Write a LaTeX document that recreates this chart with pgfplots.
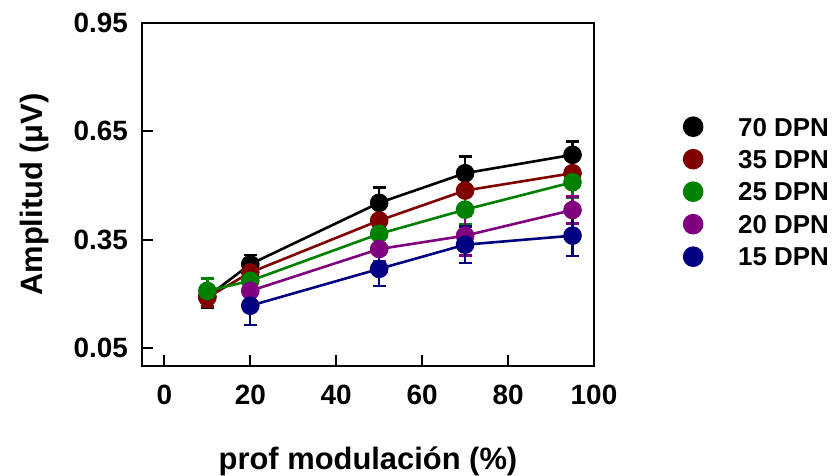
\documentclass[border=0pt]{standalone}
\usepackage{fontspec}
\setmainfont{Liberation Sans}
\usepackage{pgfplots}
\pgfplotsset{compat=1.18}
\definecolor{cred}{RGB}{128,0,0}
\definecolor{cgreen}{RGB}{0,128,0}
\definecolor{cpurple}{RGB}{128,0,128}
\definecolor{cblue}{RGB}{0,0,128}
\begin{document}
\begin{tikzpicture}
\path[use as bounding box] (0bp,0bp) rectangle (836bp,476bp);
\begin{axis}[
  at={(142bp,110bp)}, anchor=south west, scale only axis,
  width=452bp, height=343bp,
  xmin=-5.2, xmax=100, ymin=0, ymax=0.95,
  xtick={0,20,40,60,80,100},
  ytick={0.05,0.35,0.65,0.95},
  xtick pos=bottom, ytick pos=left,
  tick align=inside,
  major tick length=11bp,
  every tick/.style={black, line width=2bp},
  axis line style={line width=2.5bp},
  /pgf/number format/assume math mode=true,
  yticklabel style={/pgf/number format/fixed, /pgf/number format/fixed zerofill, /pgf/number format/precision=2, anchor=east, inner sep=0pt, xshift=-14bp},
  xticklabel style={anchor=north, inner sep=0pt, yshift=-19bp},
  ticklabel style={font=\fontsize{28}{30}\selectfont\bfseries},
  xlabel={prof modulación (\%)},
  ylabel={Amplitud (μV)},
  label style={font=\fontsize{31}{33}\selectfont\bfseries},
  xlabel style={at={(axis description cs:0.5,0)}, anchor=base, yshift=-103bp},
  ylabel style={at={(axis description cs:0,0.5)}, anchor=base, rotate=0, yshift=99bp},
  legend style={at={(axis description cs:1.199,0.7245)}, anchor=north west, draw=none, fill=none, inner sep=0pt, row sep=12.7bp, column sep=36bp, font=\fontsize{26}{26}\selectfont\bfseries, nodes={inner sep=0pt, anchor=base}},
  legend image code/.code={\draw[#1,yshift=9.3bp] plot coordinates {(0bp,0bp)};},
  every axis plot/.append style={line width=2.6bp, mark=*, mark size=8bp, mark options={solid},
    error bars/y dir=both, error bars/y explicit,
    error bars/error bar style={line width=2.4bp},
    error bars/error mark options={line width=2.4bp, mark size=6.5bp, rotate=90}},
]
\addplot[black, forget plot] table[x=x, y=y, y error=e] {
x y e
10 0.192 0.030
20 0.282 0.026
50 0.452 0.042
70 0.534 0.046
95 0.585 0.037
};
\addplot[cred, forget plot] table[x=x, y=y, y error=e] {
x y e
10 0.190 0.025
20 0.259 0.030
50 0.403 0.040
70 0.486 0.040
95 0.534 0.035
};
\addplot[cgreen, forget plot] table[x=x, y=y, y error=e] {
x y e
10 0.208 0.034
20 0.236 0.030
50 0.366 0.045
70 0.433 0.040
95 0.509 0.042
};
\addplot[cpurple, forget plot] table[x=x, y=y, y error=e] {
x y e
20 0.208 0.030
50 0.324 0.035
70 0.361 0.055
95 0.432 0.037
};
\addplot[cblue, forget plot] table[x=x, y=y, y error=e] {
x y e
20 0.167 0.053
50 0.269 0.048
70 0.336 0.050
95 0.361 0.056
};
\addlegendimage{only marks, mark=*, mark size=9bp, black}
\addlegendentry{70 DPN}
\addlegendimage{only marks, mark=*, mark size=9bp, cred}
\addlegendentry{35 DPN}
\addlegendimage{only marks, mark=*, mark size=9bp, cgreen}
\addlegendentry{25 DPN}
\addlegendimage{only marks, mark=*, mark size=9bp, cpurple}
\addlegendentry{20 DPN}
\addlegendimage{only marks, mark=*, mark size=9bp, cblue}
\addlegendentry{15 DPN}
\end{axis}
\end{tikzpicture}
\end{document}
